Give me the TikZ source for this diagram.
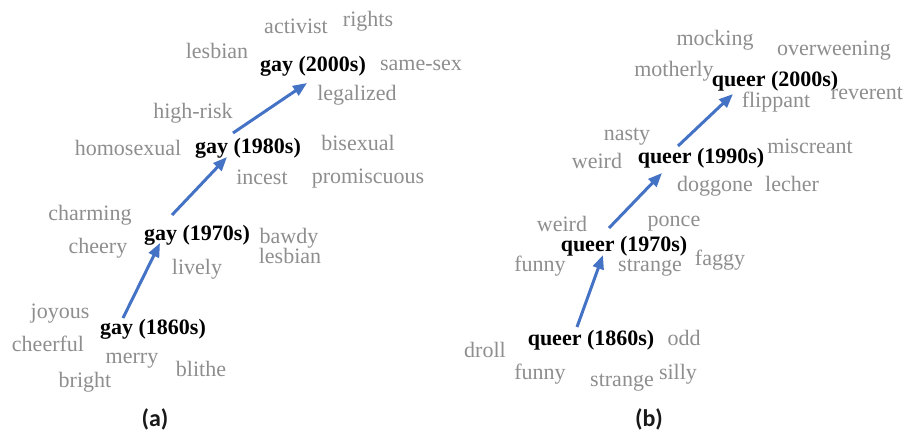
\documentclass[tikz,border=0pt]{standalone}
\usepackage{fontspec}
\setmainfont{Liberation Serif}
\newfontfamily\capfont{Carlito}
\usetikzlibrary{arrows.meta}
\definecolor{wordgray}{HTML}{8E8E8E}
\definecolor{arrowblue}{HTML}{4472C4}
\tikzset{
  wordnode/.style={inner sep=0pt, anchor=base, yshift=-8pt, text=wordgray, font=\fontsize{22}{26}\selectfont},
  keynode/.style={inner sep=0pt, anchor=base, yshift=-8pt, text=black, font=\fontsize{22}{26}\selectfont\bfseries},
  capnode/.style={inner sep=0pt, text=black!90, font=\capfont\bfseries\fontsize{24}{28}\selectfont},
  shiftarrow/.style={draw=arrowblue, line width=3pt, -{Triangle[length=14pt,width=11pt]}}
}
\begin{document}
\begin{tikzpicture}[x=1pt,y=-1pt]
\useasboundingbox (0,0) rectangle (904,431);

% ---- (a) gay ----
\node[wordnode] (a-activist) at (296,25) {activist};
\node[wordnode] (a-rights) at (368,18) {rights};
\node[wordnode] (a-lesbian2) at (217,50) {lesbian};
\node[keynode]  (g2000) at (313,63) {gay (2000s)};
\node[wordnode] (a-samesex) at (421,62) {same-sex};
\node[wordnode] (a-legalized) at (357,92) {legalized};
\node[wordnode] (a-highrisk) at (193,110) {high-risk};
\node[wordnode] (a-homosexual) at (128,147) {homosexual};
\node[keynode]  (g1980) at (248,145) {gay (1980s)};
\node[wordnode] (a-bisexual) at (358,142) {bisexual};
\node[wordnode] (a-incest) at (262,176) {incest};
\node[wordnode] (a-promiscuous) at (368,175) {promiscuous};
\node[wordnode] (a-charming) at (90,212) {charming};
\node[keynode]  (g1970) at (197,232) {gay (1970s)};
\node[wordnode] (a-cheery) at (98,245) {cheery};
\node[wordnode] (a-bawdy) at (289,235) {bawdy};
\node[wordnode] (a-lesbian) at (290,255) {lesbian};
\node[wordnode] (a-lively) at (197,266) {lively};
\node[wordnode] (a-joyous) at (60,310) {joyous};
\node[keynode]  (g1860) at (153,326) {gay (1860s)};
\node[wordnode] (a-cheerful) at (48,343) {cheerful};
\node[wordnode] (a-merry) at (132,355) {merry};
\node[wordnode] (a-blithe) at (201,368) {blithe};
\node[wordnode] (a-bright) at (85,379) {bright};
\node[capnode] (cap-a) at (155,419) {(a)};

\coordinate (ga1) at (123,318);
\coordinate (ga2) at (160,243);
\coordinate (ga3) at (172,215);
\coordinate (ga4) at (227,157);
\coordinate (ga5) at (233,133);
\coordinate (ga6) at (307,83);
\draw[shiftarrow] (ga1) -- (ga2);
\draw[shiftarrow] (ga3) -- (ga4);
\draw[shiftarrow] (ga5) -- (ga6);

% ---- (b) queer ----
\node[wordnode] (b-mocking) at (715,37) {mocking};
\node[wordnode] (b-overweening) at (834,47) {overweening};
\node[wordnode] (b-motherly) at (674,68) {motherly};
\node[keynode]  (q2000) at (775,78) {queer (2000s)};
\node[wordnode] (b-reverent) at (867,91) {reverent};
\node[wordnode] (b-flippant) at (776,99) {flippant};
\node[wordnode] (b-nasty) at (627,132) {nasty};
\node[wordnode] (b-miscreant) at (810,145) {miscreant};
\node[wordnode] (b-weird2) at (597,160) {weird};
\node[keynode]  (q1990) at (701,155) {queer (1990s)};
\node[wordnode] (b-doggone) at (715,183) {doggone};
\node[wordnode] (b-lecher) at (792,183) {lecher};
\node[wordnode] (b-weird) at (562,223) {weird};
\node[wordnode] (b-ponce) at (674,218) {ponce};
\node[keynode]  (q1970) at (624,243) {queer (1970s)};
\node[wordnode] (b-funny2) at (540,263) {funny};
\node[wordnode] (b-strange2) at (650,263) {strange};
\node[wordnode] (b-faggy) at (720,257) {faggy};
\node[keynode]  (q1860) at (591,337) {queer (1860s)};
\node[wordnode] (b-odd) at (684,337) {odd};
\node[wordnode] (b-droll) at (485,349) {droll};
\node[wordnode] (b-funny) at (540,371) {funny};
\node[wordnode] (b-strange) at (622,378) {strange};
\node[wordnode] (b-silly) at (678,371) {silly};
\node[capnode] (cap-b) at (649,419) {(b)};

\coordinate (qb1) at (577,327);
\coordinate (qb2) at (603,255);
\coordinate (qb3) at (609,228);
\coordinate (qb4) at (662,173);
\coordinate (qb5) at (678,146);
\coordinate (qb6) at (733,94);
\draw[shiftarrow] (qb1) -- (qb2);
\draw[shiftarrow] (qb3) -- (qb4);
\draw[shiftarrow] (qb5) -- (qb6);
\end{tikzpicture}
\end{document}
